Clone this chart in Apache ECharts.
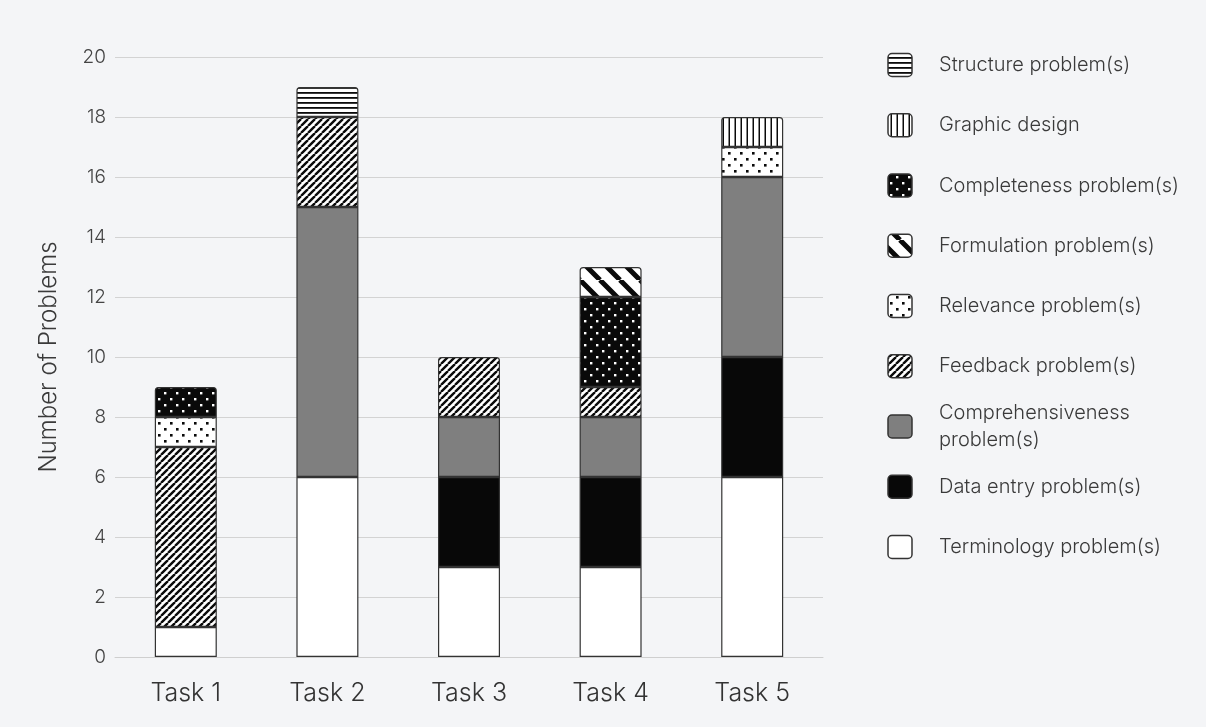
<!DOCTYPE html>
<html>
<head>
<meta charset="utf-8">
<style>
  html, body { margin: 0; padding: 0; background: #f4f5f7; }
  #chart { width: 1206px; height: 727px; }
</style>
<script src="https://cdn.jsdelivr.net/npm/echarts@6/dist/echarts.min.js"></script>
</head>
<body>
<div id="chart"></div>
<script>
// Problems found per task, by problem type (stacked bottom to top)
const categories = ['Task 1', 'Task 2', 'Task 3', 'Task 4', 'Task 5'];
const terminology       = [1, 6, 3, 3, 6];
const dataEntry         = [0, 0, 3, 3, 4];
const comprehensiveness = [0, 9, 2, 2, 6];
const feedback          = [6, 3, 2, 1, 0];
const relevance         = [1, 0, 0, 0, 1];
const completeness      = [1, 0, 0, 3, 0];
const formulation       = [0, 0, 0, 1, 0];
const graphicDesign     = [0, 0, 0, 0, 1];
const structure         = [0, 1, 0, 0, 0];

const yMin = 0, yMax = 20, yStep = 2;

// series names in stacking order, and the order shown in the key
const stackOrder = [
  ['Terminology problem(s)', terminology],
  ['Data entry problem(s)', dataEntry],
  ['Comprehensiveness problem(s)', comprehensiveness],
  ['Feedback problem(s)', feedback],
  ['Relevance problem(s)', relevance],
  ['Completeness problem(s)', completeness],
  ['Formulation problem(s)', formulation],
  ['Graphic design', graphicDesign],
  ['Structure problem(s)', structure]
];
const keyOrder = [
  'Structure problem(s)', 'Graphic design', 'Completeness problem(s)',
  'Formulation problem(s)', 'Relevance problem(s)', 'Feedback problem(s)',
  'Comprehensiveness problem(s)', 'Data entry problem(s)', 'Terminology problem(s)'
];
const keyLabels = {
  'Comprehensiveness problem(s)': 'Comprehensiveness\nproblem(s)'
};

const FONT = 'Inter, "Noto Sans", sans-serif';

// ---- fill patterns ----
function tile(w, h, draw) {
  const c = document.createElement('canvas');
  c.width = w; c.height = h;
  const ctx = c.getContext('2d');
  draw(ctx, w, h);
  return c;
}
function pattern(canvas) { return { image: canvas, repeat: 'repeat' }; }

const INK = '#0a0a0a';
const fills = {
  'Terminology problem(s)': '#ffffff',
  'Data entry problem(s)': '#080808',
  'Comprehensiveness problem(s)': '#7f7f7f',
  'Feedback problem(s)': pattern(tile(7, 7, (ctx, w, h) => {
    ctx.fillStyle = '#fff'; ctx.fillRect(0, 0, w, h);
    ctx.strokeStyle = INK; ctx.lineWidth = 2.4; ctx.beginPath();
    for (let k = -1; k <= 2; k++) { ctx.moveTo(k * w, 0); ctx.lineTo(k * w - w, h); }
    ctx.stroke();
  })),
  'Relevance problem(s)': pattern(tile(12, 12, (ctx, w, h) => {
    ctx.fillStyle = '#fff'; ctx.fillRect(0, 0, w, h);
    ctx.fillStyle = INK;
    ctx.fillRect(2, 2, 2.6, 2.6); ctx.fillRect(8, 8, 2.6, 2.6);
  })),
  'Completeness problem(s)': pattern(tile(12, 12, (ctx, w, h) => {
    ctx.fillStyle = INK; ctx.fillRect(0, 0, w, h);
    ctx.fillStyle = '#fff';
    ctx.fillRect(2, 2, 2.4, 2.4); ctx.fillRect(8, 8, 2.4, 2.4);
  })),
  'Formulation problem(s)': pattern(tile(20, 20, (ctx, w, h) => {
    ctx.fillStyle = '#fff'; ctx.fillRect(0, 0, w, h);
    ctx.strokeStyle = INK; ctx.lineWidth = 5; ctx.beginPath();
    for (let k = -1; k <= 2; k++) { ctx.moveTo(k * w - w, 0); ctx.lineTo(k * w, h); }
    ctx.stroke();
  })),
  'Graphic design': pattern(tile(6, 6, (ctx, w, h) => {
    ctx.fillStyle = '#fff'; ctx.fillRect(0, 0, w, h);
    ctx.fillStyle = INK; ctx.fillRect(2.5, 0, 1.5, h);
  })),
  'Structure problem(s)': pattern(tile(5, 5, (ctx, w, h) => {
    ctx.fillStyle = '#fff'; ctx.fillRect(0, 0, w, h);
    ctx.fillStyle = INK; ctx.fillRect(0, 2, w, 1.8);
  }))
};

// topmost filled segment of each bar gets rounded corners
const topIndex = categories.map((_, ci) => {
  let top = -1;
  stackOrder.forEach(([, vals], si) => { if (vals[ci] > 0) top = si; });
  return top;
});

const series = stackOrder.map(([name, vals], si) => ({
  name,
  type: 'bar',
  stack: 'problems',
  barWidth: 62,
  itemStyle: {
    color: fills[name],
    borderColor: '#333333',
    borderWidth: 1.2
  },
  emphasis: { disabled: true },
  data: vals.map((v, ci) => {
    if (!v) return '-';
    if (topIndex[ci] === si) {
      return { value: v, itemStyle: { borderRadius: [3, 3, 0, 0] } };
    }
    return v;
  })
}));

// ---- key on the right ----
const keyX = 888, keyTop = 65, keyStep = 60.25;
const keyGraphics = keyOrder.map((name, i) => {
  const cy = keyTop + i * keyStep;
  return {
    type: 'group',
    children: [
      {
        type: 'rect',
        shape: { x: keyX, y: cy - 11.5, width: 24, height: 23, r: 4 },
        style: { fill: fills[name], stroke: '#333333', lineWidth: 1.5 }
      },
      {
        type: 'text',
        x: keyX + 51, y: cy,
        style: {
          text: keyLabels[name] || name,
          fill: '#3a3a3a',
          font: '300 20px ' + FONT,
          lineHeight: 27,
          verticalAlign: 'middle',
          align: 'left'
        }
      }
    ]
  };
});

const chart = echarts.init(document.getElementById('chart'), null, { renderer: 'canvas' });
chart.setOption({
  backgroundColor: '#f4f5f7',
  animation: false,
  textStyle: { fontFamily: FONT, fontWeight: 300 },
  grid: { left: 115, right: 383, top: 57, bottom: 70, containLabel: false },
  xAxis: {
    type: 'category',
    data: categories,
    axisLine: { show: true, lineStyle: { color: '#cfcfcf', width: 1 } },
    axisTick: { show: false },
    axisLabel: { color: '#333333', fontSize: 25, fontWeight: 300, lineHeight: 25, margin: 24 }
  },
  yAxis: {
    type: 'value',
    min: yMin, max: yMax, interval: yStep,
    name: 'Number of Problems',
    nameLocation: 'middle',
    nameGap: 54,
    nameTextStyle: { color: '#3a3a3a', fontSize: 24, fontWeight: 300, lineHeight: 24 },
    axisLine: { show: false },
    axisTick: { show: false },
    axisLabel: { color: '#444444', fontSize: 19, fontWeight: 300, margin: 9 },
    splitLine: { lineStyle: { color: '#d3d3d3', width: 1 } }
  },
  graphic: keyGraphics,
  series
});
</script>
</body>
</html>
